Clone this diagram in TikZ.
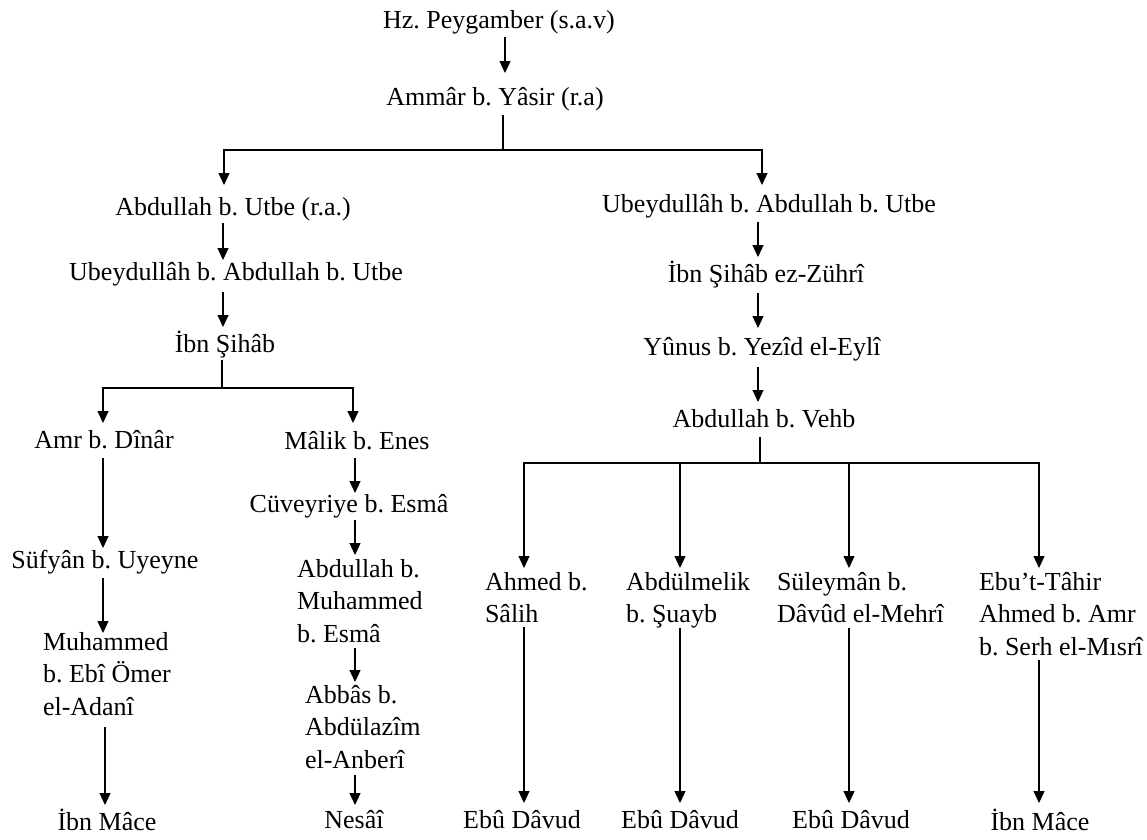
\documentclass[tikz,border=0pt]{standalone}
\usepackage{fontspec}
\setmainfont{Liberation Serif}
\usetikzlibrary{arrows.meta,calc}
% invisible strut that fixes the top of multi-line names
\newcommand\lnstrut{\rule{0pt}{24pt}}
\frenchspacing
\begin{document}
\begin{tikzpicture}[x=1pt,y=1pt,
  person/.style={inner sep=0pt,outer sep=0pt,anchor=base,font=\fontsize{26}{32.5}\selectfont\frenchspacing},
  personml/.style={person,anchor=north west,align=left},
  link/.style={line width=1.2pt},
  arr/.style={link,-{Triangle[width=11pt,length=12pt]}}]

\useasboundingbox (0,0) rectangle (1147,-839);
\fill[white] (0,0) rectangle (1147,-839);

% ---- chain head ----
\node[person] (hz) at (499,-28) {Hz. Peygamber (s.a.v)};
\node[person] (am) at (495,-105) {Ammâr b. Yâsir (r.a)};

% ---- left branch ----
\node[person] (au) at (233,-215) {Abdullah b. Utbe (r.a.)};
\node[person] (ubl) at (236,-280) {Ubeydullâh b. Abdullah b. Utbe};
\node[person] (isl) at (225,-352) {İbn Şihâb};
\node[person] (amr) at (104,-448) {Amr b. Dînâr};
\node[person] (suf) at (105,-568) {Süfyân b. Uyeyne};
\node[personml] (muh) at (43,-626) {\lnstrut Muhammed\\b. Ebî Ömer\\el-Adanî};
\node[person] (imL) at (107,-830) {İbn Mâce};
\node[person] (mal) at (357,-449) {Mâlik b. Enes};
\node[person] (cuv) at (349,-512) {Cüveyriye b. Esmâ};
\node[personml] (abm) at (297,-553) {\lnstrut Abdullah b.\\Muhammed\\b. Esmâ};
\node[personml] (abb) at (305,-679) {\lnstrut Abbâs b.\\Abdülazîm\\el-Anberî};
\node[person] (nes) at (354,-828) {Nesâî};

% ---- right branch ----
\node[person] (ubr) at (769,-212) {Ubeydullâh b. Abdullah b. Utbe};
\node[person] (isr) at (766,-282) {İbn Şihâb ez-Zührî};
\node[person] (yun) at (762,-355) {Yûnus b. Yezîd el-Eylî};
\node[person] (vehb) at (764,-427) {Abdullah b. Vehb};
\node[personml] (ahm) at (485,-566) {\lnstrut Ahmed b.\\Sâlih};
\node[personml] (abd) at (626,-566) {\lnstrut Abdülmelik\\b. Şuayb};
\node[personml] (sul) at (777,-566) {\lnstrut Süleymân b.\\Dâvûd el-Mehrî};
\node[personml] (ebu) at (979,-566) {\lnstrut Ebu’t-Tâhir\\Ahmed b. Amr\\b. Serh el-Mısrî};
\node[person] (ed1) at (522,-828) {Ebû Dâvud};
\node[person] (ed2) at (680,-828) {Ebû Dâvud};
\node[person] (ed3) at (851,-828) {Ebû Dâvud};
\node[person] (imR) at (1040,-830) {İbn Mâce};

% ---- connectors ----
\draw[arr] ($(hz.base)+(6,-9)$) -- ($(am.base)+(10,32)$);
\coordinate (amJ) at ($(am.base)+(8,-45)$);
\draw[link] ($(am.base)+(8,-10)$) -- (amJ);
\draw[arr] (amJ) -| ($(au.base)+(-9,30)$);
\draw[arr] (amJ) -| ($(ubr.base)+(-7,27)$);

\draw[arr] ($(au.base)+(-10,-8)$) -- ($(ubl.base)+(-13,20)$);
\draw[arr] ($(ubl.base)+(-13,-12)$) -- ($(isl.base)+(-2,25)$);
\coordinate (islJ) at ($(isl.base)+(-3,-36)$);
\draw[link] ($(isl.base)+(-3,-8)$) -- (islJ);
\draw[arr] (islJ) -| ($(amr.base)+(-1,25)$);
\draw[arr] (islJ) -| ($(mal.base)+(-4,26)$);

\draw[arr] ($(amr.base)+(-1,-10)$) -- ($(suf.base)+(-2,20)$);
\draw[arr] ($(suf.base)+(-2,-10)$) -- ($(muh.north west)+(60,-7)$);
\draw[arr] ($(muh.north west)+(62,-101)$) -- ($(imL.base)+(-2,25)$);

\draw[arr] ($(mal.base)+(-2,-9)$) -- ($(cuv.base)+(6,19)$);
\draw[arr] ($(cuv.base)+(6,-8)$) -- ($(abm.north west)+(58,-2)$);
\draw[arr] ($(abm.north west)+(58,-95)$) -- ($(abb.north west)+(50,-3)$);
\draw[arr] ($(abb.north west)+(50,-96)$) -- ($(nes.base)+(1,23)$);

\draw[arr] ($(ubr.base)+(-11,-10)$) -- ($(isr.base)+(-8,25)$);
\draw[arr] ($(isr.base)+(-8,-11)$) -- ($(yun.base)+(-4,27)$);
\draw[arr] ($(yun.base)+(-4,-12)$) -- ($(vehb.base)+(-6,25)$);
\coordinate (vehbJ) at ($(vehb.base)+(-4,-36)$);
\draw[link] ($(vehb.base)+(-4,-10)$) -- (vehbJ);
\draw[arr] (vehbJ) -| ($(ahm.north west)+(39,-2)$);
\draw[arr] (vehbJ) -| ($(abd.north west)+(54,-2)$);
\draw[arr] (vehbJ) -| ($(sul.north west)+(72,-2)$);
\draw[arr] (vehbJ) -| ($(ebu.north west)+(60,-2)$);

\draw[arr] ($(ahm.north west)+(39,-61)$) -- ($(ed1.base)+(2,25)$);
\draw[arr] ($(abd.north west)+(54,-62)$) -- ($(ed2.base)+(0,25)$);
\draw[arr] ($(sul.north west)+(72,-62)$) -- ($(ed3.base)+(-2,25)$);
\draw[arr] ($(ebu.north west)+(60,-94)$) -- ($(imR.base)+(-1,27)$);
\end{tikzpicture}
\end{document}
